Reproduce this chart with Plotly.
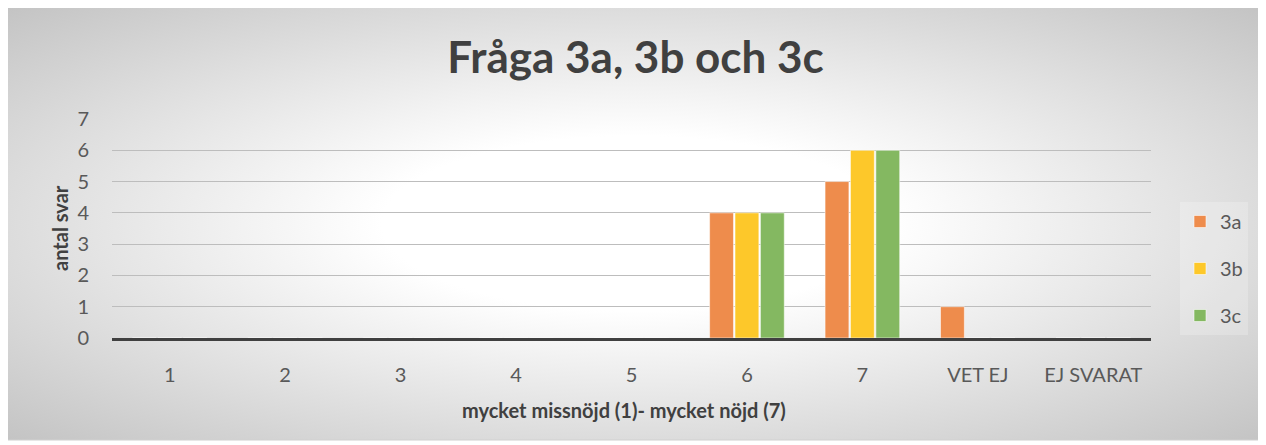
import base64
import plotly.graph_objects as go

categories = ["1", "2", "3", "4", "5", "6", "7", "VET EJ", "EJ SVARAT"]
series_names = ["3a", "3b", "3c"]
values_3a = [0, 0, 0, 0, 0, 4, 5, 1, 0]
values_3b = [0, 0, 0, 0, 0, 4, 6, 0, 0]
values_3c = [0, 0, 0, 0, 0, 4, 6, 0, 0]
colors = ["#EE8C4C", "#FDC82A", "#84B861"]
y_ticks = [0, 1, 2, 3, 4, 5, 6, 7]

# page body has an 8px margin; figure coordinates = screen - 8
W, H = 1258, 437
L, R, T, B = 104, 115, 111, 107
pw, ph = W - L - R, H - T - B

def px_x(px):
    return (px - L) / pw

def px_y(py):
    return (H - B - py) / ph

FW, FH = 1256, 433
svg = ('<svg xmlns="http://www.w3.org/2000/svg" width="%d" height="%d" viewBox="0 0 %d %d" preserveAspectRatio="none">'
       '<defs><radialGradient id="g" cx="0.5" cy="0.5" r="0.72">'
       '<stop offset="0" stop-color="#ffffff"/><stop offset="0.28" stop-color="#ffffff"/>'
       '<stop offset="1" stop-color="#c2c2c2"/></radialGradient></defs>'
       '<rect x="0" y="0" width="%d" height="%d" fill="url(#g)"/></svg>') % (FW, FH, FW, FH, FW, FH)
src = "data:image/svg+xml;base64," + base64.b64encode(svg.encode()).decode()

FONT = "Lato, Open Sans, sans-serif"

fig = go.Figure()
for name, vals, col in zip(series_names, [values_3a, values_3b, values_3c], colors):
    fig.add_trace(go.Bar(
        x=categories, y=vals, name=name, legendgroup=name,
        marker=dict(color=col, line=dict(color="rgba(255,255,255,0.55)", width=1)),
    ))

fx0, fx1 = px_x(-1), px_x(1255)
fy0, fy1 = px_y(432), px_y(-1)

fig.update_layout(
    width=W, height=H,
    margin=dict(l=L, r=R, t=T, b=B),
    paper_bgcolor="white", plot_bgcolor="rgba(0,0,0,0)",
    images=[dict(source=src, xref="paper", yref="paper", x=fx0, y=fy1,
                 sizex=fx1 - fx0, sizey=fy1 - fy0, xanchor="left", yanchor="top",
                 sizing="stretch", layer="below")],
    shapes=[dict(type="rect", xref="paper", yref="paper", x0=fx0, x1=fx1, y0=fy0, y1=fy1,
                 line=dict(color="#d0d0d0", width=1), fillcolor="rgba(0,0,0,0)", layer="below")],
    title=dict(text="<b>Fråga 3a, 3b och 3c</b>", x=px_x(627.5), xref="paper", xanchor="center",
               y=1 - 50 / H, yanchor="middle",
               font=dict(family=FONT, size=44, color="#404040")),
    barmode="group", bargap=0.34, bargroupgap=0.06,
    font=dict(family=FONT, color="#595959"),
    xaxis=dict(
        type="category", showgrid=False, showline=True, linecolor="#404040", linewidth=3,
        ticks="", tickfont=dict(size=20, color="#595959"), ticklabelstandoff=17,
        zeroline=False,
    ),
    yaxis=dict(
        range=[0, 7], tickvals=y_ticks, showgrid=True, gridcolor="#bdbdbd", gridwidth=1,
        zeroline=False, showline=False, ticks="", ticklabelstandoff=22,
        tickfont=dict(size=20, color="#595959"),
    ),
    annotations=[
        dict(text="<b>mycket missnöjd (1)- mycket nöjd (7)</b>", xref="paper", yref="paper",
             x=px_x(616), y=px_y(402), xanchor="center", yanchor="middle", showarrow=False,
             font=dict(family=FONT, size=20, color="#404040")),
        dict(text="<b>antal svar</b>", xref="paper", yref="paper", textangle=-90,
             x=px_x(52), y=px_y(220), xanchor="center", yanchor="middle", showarrow=False,
             font=dict(family=FONT, size=20, color="#404040")),
    ],
    legend=dict(
        x=px_x(1172), xanchor="left", y=px_y(194), yanchor="top",
        bgcolor="rgba(255,255,255,0.22)", font=dict(size=20, color="#595959"),
        tracegroupgap=18, itemwidth=30,
    ),
)

fig.write_html("out.html")
